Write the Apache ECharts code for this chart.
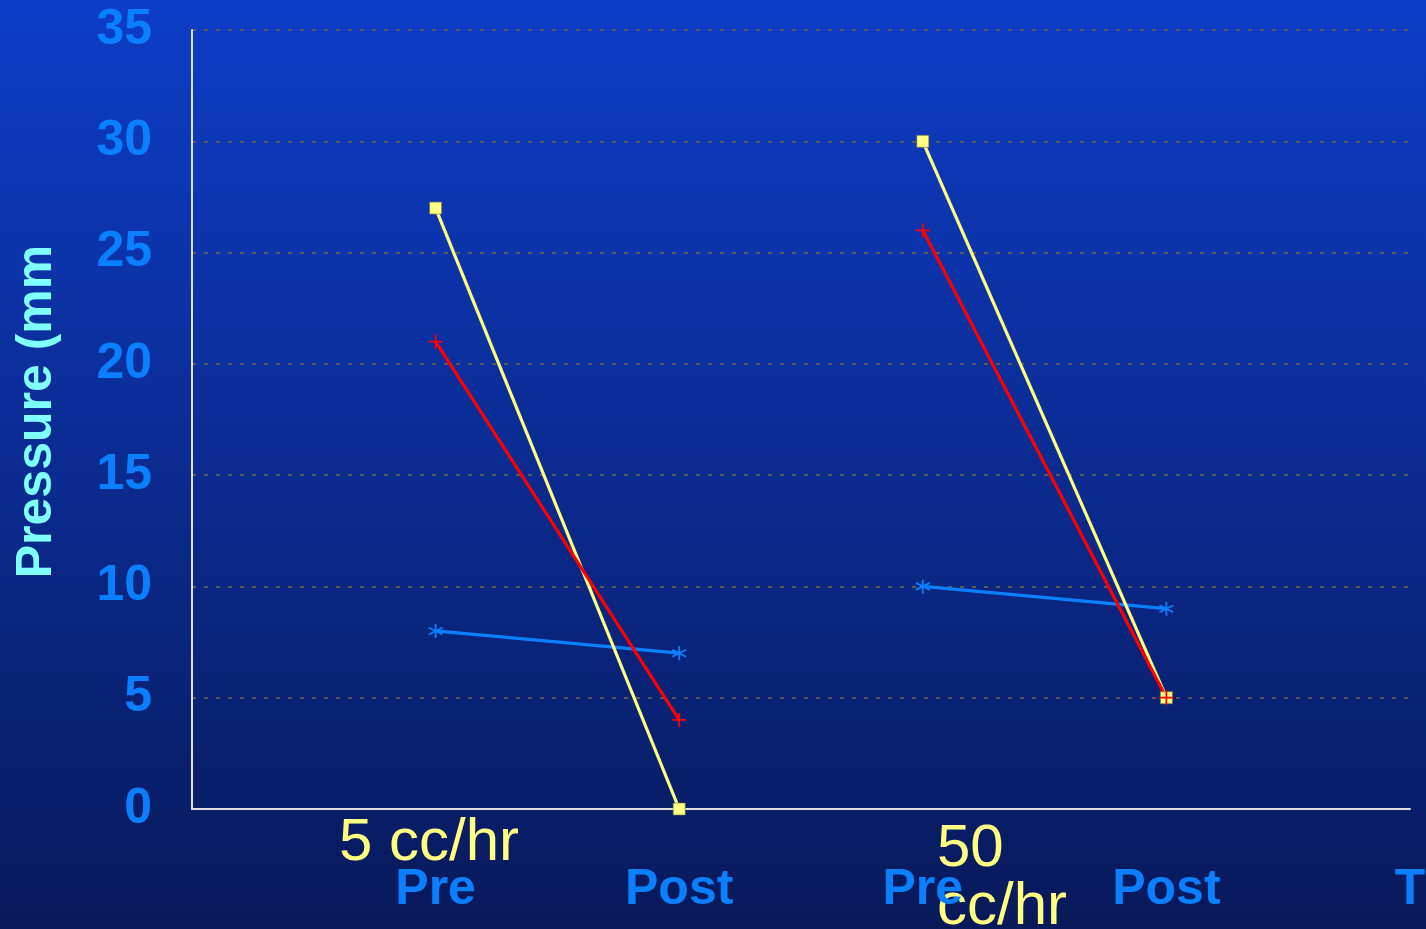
<!DOCTYPE html>
<html>
<head>
<meta charset="utf-8">
<script src="https://cdn.jsdelivr.net/npm/echarts@6/dist/echarts.min.js"></script>
<style>html,body{margin:0;padding:0;}#c{width:1426px;height:929px;}</style>
</head>
<body>
<div id="c"></div>
<script>
const categories = ['', 'Pre', 'Post', 'Pre', 'Post', 'T'];
const yTicks = [0, 5, 10, 15, 20, 25, 30, 35];
const yellow5 = [null, 27, 0, null, null, null];
const yellow50 = [null, null, null, 30, 5, null];
const red5 = [null, 21, 4, null, null, null];
const red50 = [null, null, null, 26, 5, null];
const blue5 = [null, 8, 7, null, null, null];
const blue50 = [null, null, null, 10, 9, null];

const plusPath = 'path://M5,0L5,10M0,5L10,5';
const starPath = 'path://M5,0L5,10M0.7,2.5L9.3,7.5M0.7,7.5L9.3,2.5';

function mk(data, color, symbol, size, border) {
  return {
    type: 'line', data: data, connectNulls: false, symbol: symbol, symbolSize: size,
    showSymbol: true,
    lineStyle: { color: color, width: 3.2 },
    itemStyle: border ? { color: 'transparent', borderColor: color, borderWidth: 1.8 }
                      : { color: color, borderColor: 'rgba(120,120,60,0.8)', borderWidth: 0.8 },
    emphasis: { disabled: true }, animation: false
  };
}

const chart = echarts.init(document.getElementById('c'));
chart.setOption({
  animation: false,
  backgroundColor: {
    type: 'linear', x: 0, y: 0, x2: 0, y2: 1,
    colorStops: [{ offset: 0, color: '#0d3dc8' }, { offset: 1, color: '#08195a' }]
  },
  grid: { left: 192, right: 16, top: 30, bottom: 120, containLabel: false, outerBoundsMode: 'none' },
  xAxis: {
    type: 'category', data: categories, boundaryGap: false,
    axisLine: { lineStyle: { color: '#e0e0e0', width: 2 } },
    axisTick: { show: false },
    axisLabel: { color: '#0a80ff', fontSize: 50, fontWeight: 'bold', fontFamily: 'Liberation Sans, Arial', margin: 56, interval: 0 },
    splitLine: { show: false }
  },
  yAxis: {
    type: 'value', min: 0, max: 35, interval: 5,
    name: 'Pressure (mm', nameLocation: 'middle', nameGap: 130, nameRotate: 90,
    nameTextStyle: { color: '#80ffff', fontSize: 50, fontWeight: 'bold', fontFamily: 'Liberation Sans, Arial', padding: [0, 0, 0, 16] },
    axisLine: { show: true, lineStyle: { color: '#e0e0e0', width: 2 } },
    axisTick: { show: false },
    axisLabel: { color: '#0a80ff', fontSize: 50, fontWeight: 'bold', fontFamily: 'Liberation Sans, Arial', margin: 40, padding: [4, 0, 0, 0],
      formatter: function (v) { return yTicks.indexOf(v) >= 0 ? String(v) : ''; } },
    splitLine: { show: true, lineStyle: { color: '#5a5a5a', width: 2, type: [4, 8] } }
  },
  graphic: [
    { type: 'text', left: 339, top: 813, style: { text: '5 cc/hr', fill: '#ffff80', fontSize: 60, fontFamily: 'Liberation Sans, Arial' } },
    { type: 'text', left: 937, top: 819, style: { text: '50\ncc/hr', fill: '#ffff80', fontSize: 60, lineHeight: 58, fontFamily: 'Liberation Sans, Arial' } }
  ],
  series: [
    mk(blue5, '#0a80ff', starPath, 14, true),
    mk(blue50, '#0a80ff', starPath, 14, true),
    mk(yellow5, '#ffff80', 'rect', 12, false),
    mk(yellow50, '#ffff80', 'rect', 12, false),
    mk(red5, '#ff0000', plusPath, 14, true),
    mk(red50, '#ff0000', plusPath, 14, true)
  ]
});
</script>
</body>
</html>
